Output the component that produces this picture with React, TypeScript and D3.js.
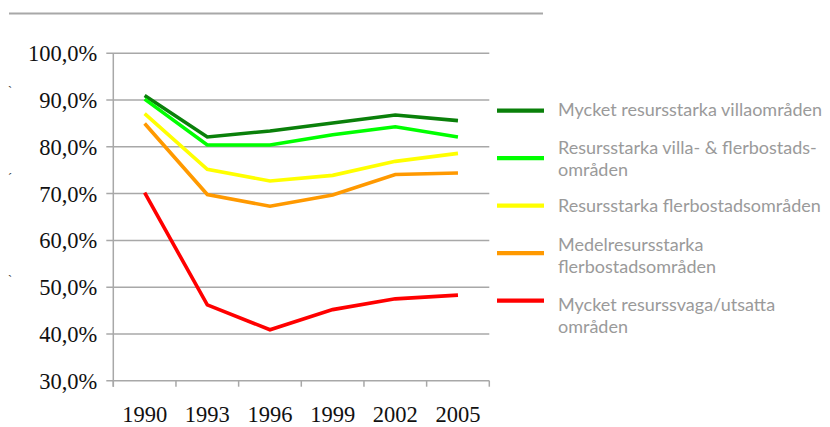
import React from "react";
import * as d3 from "d3";

// years on the x axis
const years = ["1990", "1993", "1996", "1999", "2002", "2005"];

// share (%) per area type
const mycketStarka = [91.0, 82.1, 83.4, 85.1, 86.8, 85.6];
const starkaVillaFler = [90.2, 80.4, 80.4, 82.6, 84.3, 82.1];
const starkaFler = [87.1, 75.2, 72.7, 73.9, 76.9, 78.6];
const medelFler = [85.0, 69.8, 67.3, 69.7, 74.1, 74.4];
const mycketSvaga = [70.2, 46.2, 40.9, 45.2, 47.5, 48.3];

const yTicks = [30, 40, 50, 60, 70, 80, 90, 100];

const seriesNames = [
  ["Mycket resursstarka villaområden"],
  ["Resursstarka villa- & flerbostads-", "områden"],
  ["Resursstarka flerbostadsområden"],
  ["Medelresursstarka", "flerbostadsområden"],
  ["Mycket resurssvaga/utsatta", "områden"],
];
const seriesValues = [mycketStarka, starkaVillaFler, starkaFler, medelFler, mycketSvaga];
const colors = ["#0a800a", "#00ff00", "#ffff00", "#ff9900", "#ff0000"];

const width = 830;
const height = 427;
const grid = "#a8a8a8";
// first text baseline relative to each legend swatch (the original is not quite even)
const legendTextOffset = [5.3, -4.5, 6.3, -2, 10.3];

const sv = d3.formatLocale({ decimal: ",", thousands: " ", grouping: [3], currency: ["", " kr"] });
const fmt = (v: number) => sv.format(".1f")(v) + "%";

const App = () => {
  const x = d3.scaleBand().domain(years).range([113.3, 489.3]);
  const y = d3.scaleLinear().domain([30, 100]).range([380.7, 53.3]);
  const [x0, x1] = x.range();

  const line = d3.line<number>()
    .x((_, i) => x(years[i])! + x.bandwidth() / 2)
    .y(d => y(d));

  // legend row positions (centre of each swatch)
  const legendY = d3.scalePoint<number>().domain([0, 1, 2, 3, 4]).range([110.7, 300.7]);

  return (
    <svg width={width} height={height} style={{ position: "absolute", left: 0, top: 0, background: "#fff" }}>
      <line x1={9} x2={543} y1={13.6} y2={13.6} stroke={grid} strokeWidth={2} />

      {/* stray marks at the left edge */}
      <g fontFamily="Liberation Serif" fontSize={12} fill="#333">
        <text x={8} y={95}>`</text>
        <text x={8} y={182}>´</text>
        <text x={8} y={284}>`</text>
      </g>

      {/* horizontal grid + y ticks */}
      {yTicks.map(t => (
        <line key={t} x1={x0 - 7} x2={x1} y1={y(t)} y2={y(t)} stroke={grid} strokeWidth={1.5} />
      ))}
      <line x1={x0} x2={x0} y1={y(100)} y2={y(30) + 6} stroke={grid} strokeWidth={1.5} />
      {d3.range(years.length + 1).map(i => {
        const tx = x0 + i * x.step();
        return <line key={i} x1={tx} x2={tx} y1={y(30)} y2={y(30) + 6} stroke={grid} strokeWidth={1.5} />;
      })}

      <g fontFamily="Liberation Serif" fontSize={22.5} fill="#111">
        {yTicks.map(t => (
          <text key={t} x={x0 - 16} y={y(t)} dy="0.36em" textAnchor="end">{fmt(t)}</text>
        ))}
        {years.map(yr => (
          <text key={yr} x={x(yr)! + x.bandwidth() / 2} y={422} textAnchor="middle">{yr}</text>
        ))}
      </g>

      {seriesValues.map((vals, i) => (
        <path key={i} d={line(vals)!} fill="none" stroke={colors[i]} strokeWidth={3.6} strokeLinejoin="miter" />
      ))}

      <g fontFamily="Lato" fontSize={18} fill="#9a9a9a">
        {seriesNames.map((rows, i) => {
          const cy = legendY(i)!;
          const start = cy + legendTextOffset[i];
          return (
            <g key={i}>
              <line x1={497} x2={544} y1={cy} y2={cy} stroke={colors[i]} strokeWidth={4.2} />
              {rows.map((r, j) => (
                <text key={j} x={558} y={start + j * 22}>{r}</text>
              ))}
            </g>
          );
        })}
      </g>
    </svg>
  );
};

export default App;
